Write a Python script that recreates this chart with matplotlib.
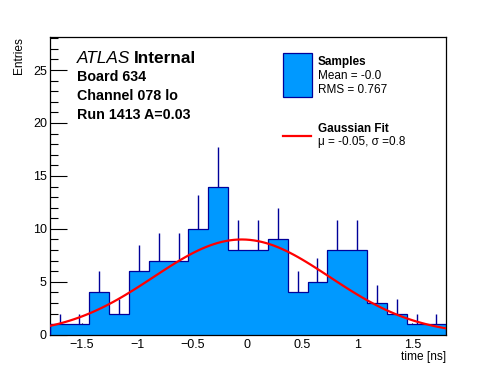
import numpy as np
import matplotlib
matplotlib.use('Agg')
from matplotlib import pyplot as plt
from matplotlib.patches import Rectangle
from matplotlib.lines import Line2D
from matplotlib.ticker import MultipleLocator

# histogram contents, 20 bins over the time window
counts = [1, 1, 4, 2, 6, 7, 7, 10, 14, 8, 8, 9, 4, 5, 8, 8, 3, 2, 1, 1]
x_min, x_max = -1.795, 1.81
y_max = 28.1

# gaussian fit result
fit_amp = 9.0
fit_mu = -0.05
fit_sigma = 0.8

info_lines = ['Board 634', 'Channel 078 lo', 'Run 1413 A=0.03']
stats_lines = ['Mean = -0.0', 'RMS = 0.767']
fit_text = '\u03bc = -0.05, \u03c3 =0.8'

fill_col = '#0099ff'
line_col = '#000099'

plt.rcParams['font.family'] = ['Liberation Sans', 'DejaVu Sans']

fig = plt.figure(figsize=(4.96, 3.72), dpi=100)
ax = fig.add_axes([0.1, 0.1, 0.8, 0.8])

counts = np.array(counts, dtype=float)
edges = np.linspace(x_min, x_max, len(counts) + 1)
centers = 0.5 * (edges[:-1] + edges[1:])
errs = np.sqrt(counts)

# error bars go under the fill, so only the upper half shows
ax.vlines(centers, counts - errs, counts + errs, color=line_col, lw=1.0, zorder=1)
ax.stairs(counts, edges, fill=True, color=fill_col, zorder=2)
ax.stairs(counts, edges, fill=False, color=line_col, lw=0.9, zorder=3)

xs = np.linspace(x_min, x_max, 100)
ax.plot(xs, fit_amp * np.exp(-0.5 * ((xs - fit_mu) / fit_sigma) ** 2),
        color='#ff0000', lw=1.6, zorder=4)

ax.set_xlim(x_min, x_max)
ax.set_ylim(0, y_max)
ax.xaxis.set_major_locator(MultipleLocator(0.5))
ax.xaxis.set_minor_locator(MultipleLocator(0.1))
ax.yaxis.set_major_locator(MultipleLocator(5))
ax.yaxis.set_minor_locator(MultipleLocator(1))
ax.tick_params(which='both', direction='in', top=False, right=False, labelsize=9, width=0.8)
ax.tick_params(axis='x', which='major', length=9, pad=3)
ax.tick_params(axis='x', which='minor', length=4.5)
ax.tick_params(axis='y', which='major', length=12, pad=2)
ax.tick_params(axis='y', which='minor', length=6)
ax.xaxis.set_major_formatter(plt.FuncFormatter(lambda v, p: f'{v:g}'.replace('-', '\u2212')))
for sp in ax.spines.values():
    sp.set_linewidth(0.9)

fig.text(0.899, 0.033, 'time [ns]', ha='right', va='baseline', fontsize=8.6)
fig.text(0.038, 0.9, 'Entries', rotation=90, ha='center', va='top', fontsize=8.6)

# ATLAS label block
t = fig.text(0.1546, 0.8315, 'ATLAS', style='italic', fontsize=12.4, va='baseline')
fig.canvas.draw()
bb = t.get_window_extent()
fig.text(bb.x1 / fig.bbox.width + 0.008, 0.8315, 'Internal', fontweight='bold',
         fontsize=12.4, va='baseline')
for i, s in enumerate(info_lines):
    fig.text(0.1546, [0.783, 0.730, 0.679][i], s, fontweight='bold', fontsize=10.3, va='baseline')

# legend drawn by hand
fig.patches.append(Rectangle((0.570, 0.740), 0.0585, 0.118, transform=fig.transFigure,
                             facecolor=fill_col, edgecolor=line_col, lw=0.9))
fig.text(0.6405, 0.8253, 'Samples', fontweight='bold', fontsize=8.5, va='baseline')
fig.text(0.6405, 0.7884, stats_lines[0], fontsize=8.5, va='baseline')
fig.text(0.6405, 0.749, stats_lines[1], fontsize=8.5, va='baseline')
fig.lines.append(Line2D([0.570, 0.628], [0.6344, 0.6344], transform=fig.transFigure,
                        color='#ff0000', lw=1.6))
fig.text(0.6405, 0.6444, 'Gaussian Fit', fontweight='bold', fontsize=8.5, va='baseline')
fig.text(0.6405, 0.610, fit_text, fontsize=8.5, va='baseline')

fig.savefig('out.png', dpi=100)
